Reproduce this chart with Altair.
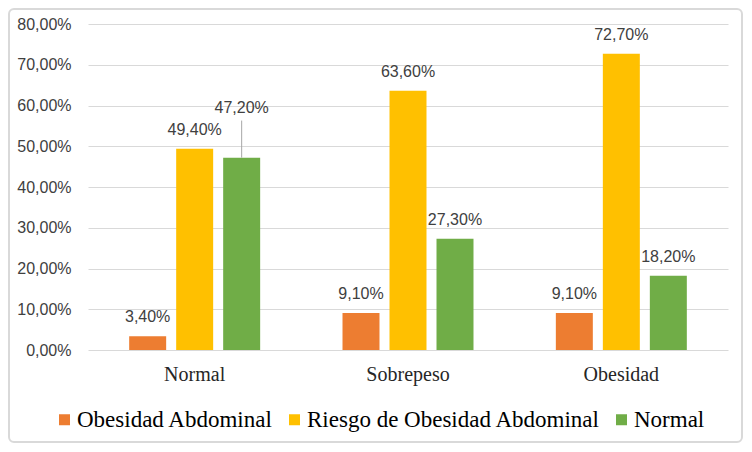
import altair as alt
import pandas as pd

categories = ["Normal", "Sobrepeso", "Obesidad"]
series = ["Obesidad Abdominal", "Riesgo de Obesidad Abdominal", "Normal"]
obesidad_abdominal = [3.4, 9.1, 9.1]
riesgo_obesidad = [49.4, 63.6, 72.7]
normal = [47.2, 27.3, 18.2]
colors = ["#ED7D31", "#FFC000", "#70AD47"]
y_ticks = [0, 10, 20, 30, 40, 50, 60, 70, 80]

rows = []
for s, vals in zip(series, [obesidad_abdominal, riesgo_obesidad, normal]):
    for c, v in zip(categories, vals):
        rows.append({"cat": c, "serie": s, "value": v,
                     "callout": bool(c == "Normal" and s == "Normal")})
df = pd.DataFrame(rows)

x_enc = alt.X("cat:N", sort=categories,
              scale=alt.Scale(paddingInner=0.386, paddingOuter=0.193),
              axis=alt.Axis(title=None, ticks=False, domain=False, grid=False,
                            labelFont="Liberation Serif", labelFontSize=20,
                            labelColor="#262626", labelPadding=14, labelAngle=0))
xo_enc = alt.XOffset("serie:N", sort=series,
                     scale=alt.Scale(paddingInner=0.213, paddingOuter=0))
y_enc = alt.Y("value:Q", scale=alt.Scale(domain=[0, 80], nice=False),
              axis=alt.Axis(title=None, values=y_ticks, ticks=False, domain=False,
                            grid=True, gridColor="#d9d9d9", gridWidth=1,
                            labelFont="Liberation Sans", labelFontSize=16,
                            labelColor="#404040", labelPadding=17,
                            labelExpr="replace(format(datum.value, '.2f'), '.', ',') + '%'"))

base = alt.Chart(df).transform_calculate(
    label="replace(format(datum.value, '.2f'), '.', ',') + '%'",
    top="datum.value + 9.1",
).encode(x=x_enc, xOffset=xo_enc)

bars = base.mark_bar().encode(
    y=y_enc,
    color=alt.Color("serie:N", sort=series,
                    scale=alt.Scale(domain=series, range=colors),
                    legend=alt.Legend(title=None, orient="none", direction="horizontal",
                                      legendX=-35, legendY=384,
                                      symbolType="square", symbolSize=121,
                                      symbolStrokeWidth=0, labelFont="Liberation Serif",
                                      labelFontSize=23, labelColor="#000000",
                                      labelOffset=1, columnPadding=9, labelLimit=500)),
)

labels = base.transform_filter("!datum.callout").mark_text(
    dy=-14, baseline="alphabetic", font="Liberation Sans", fontSize=16, color="#404040"
).encode(y="value:Q", text="label:N")

callout_text = base.transform_filter("datum.callout").mark_text(
    dy=-45, baseline="alphabetic", font="Liberation Sans", fontSize=16, color="#404040"
).encode(y="value:Q", text="label:N")

callout_line = base.transform_filter("datum.callout").mark_rule(
    color="#a6a6a6", strokeWidth=1
).encode(y="value:Q", y2="top:Q")

frame = alt.Chart(pd.DataFrame({"a": [0]})).mark_rect(
    filled=False, stroke="#d9d9d9", strokeWidth=2, cornerRadius=5
).encode(x=alt.value(-79), x2=alt.value(654), y=alt.value(-15), y2=alt.value(418))

chart = alt.layer(bars, callout_line, labels, callout_text, frame).properties(
    width=640, height=326,
    padding={"left": 80, "top": 16, "right": 16, "bottom": 94},
    autosize=alt.AutoSizeParams(type="none"),
    background="white",
).configure_view(stroke=None)

chart.save("out.html", embed_options={"renderer": "svg", "actions": False})
